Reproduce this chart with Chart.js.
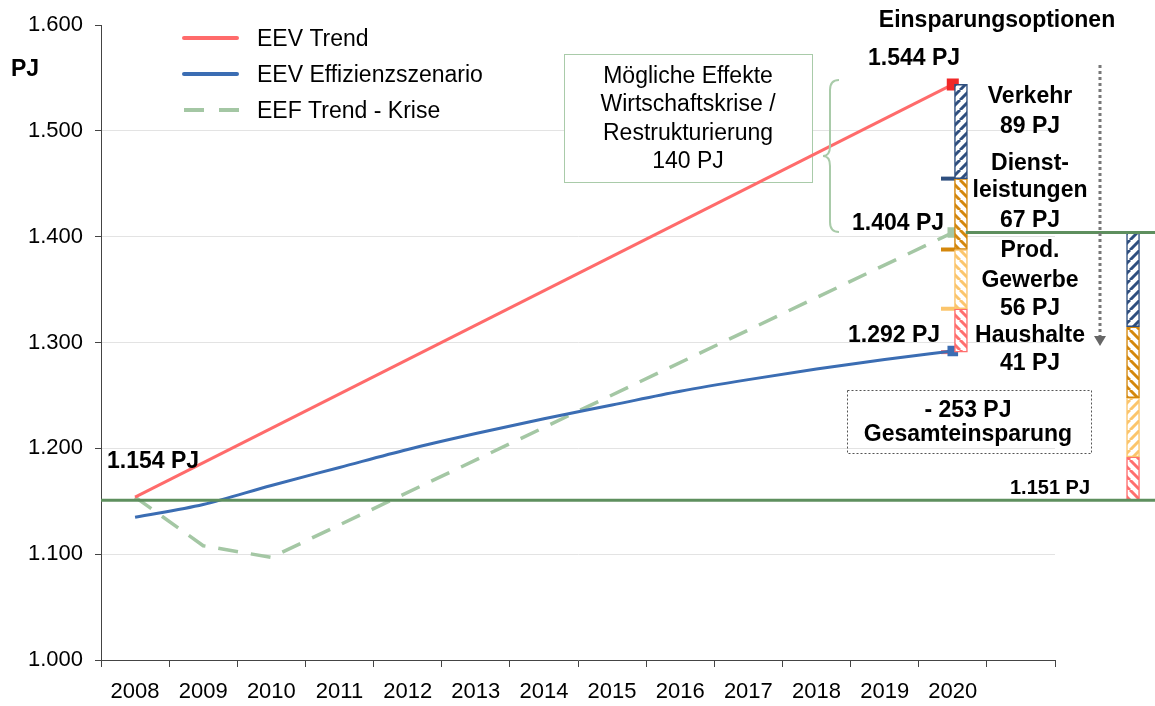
<!DOCTYPE html>
<html>
<head>
<meta charset="utf-8">
<script src="https://cdn.jsdelivr.net/npm/chart.js@4.4.1/dist/chart.umd.min.js"></script>
<style>
html,body{margin:0;padding:0;background:#fff;}
#wrap{width:1155px;height:706px;}
canvas{display:block;}
</style>
</head>
<body>
<div id="wrap"><canvas id="c" width="1155" height="706"></canvas></div>
<script>
// ---------------- DATA ----------------
const years = ['2008','2009','2010','2011','2012','2013','2014','2015','2016','2017','2018','2019','2020'];
const eevTrend      = [1154, null, null, null, null, null, null, null, null, null, null, null, 1544];
const eevEffizienz  = [1135, 1147, 1165, 1182, 1199, 1214, 1228, 1241, 1254, 1265, 1275, 1284, 1292];
const eefTrendKrise = [1154, 1108, 1097, null, null, null, null, null, null, null, null, null, 1404];
const sectors       = ['Verkehr', 'Dienstleistungen', 'Prod. Gewerbe', 'Haushalte'];
const sectorSavings = [89, 67, 56, 41];
const trendEnd = 1544;
const kriseEnd = 1404;
const kriseTarget = 1151;
const yTicks = [1000, 1100, 1200, 1300, 1400, 1500, 1600];

// ---------------- HELPERS ----------------
const FONT = '"Liberation Sans", Arial, Helvetica, sans-serif';
Chart.defaults.font.family = FONT;
Chart.defaults.font.size = 22;
Chart.defaults.color = '#000';

function bounds(top) {
  const b = [top];
  sectorSavings.forEach(s => b.push(b[b.length - 1] - s));
  return b;
}
const trendBounds = bounds(trendEnd);
const kriseBounds = bounds(kriseEnd);
const toXY = arr => arr.map((v, i) => ({x: i, y: v}));

const sectorColors = ['#2f4f7f', '#d4870c', '#fbc56c', '#ff6e6e'];
const canvas = document.getElementById('c');
const mainCtx = canvas.getContext('2d');
function hatch(color, dir) {
  const s = 10;
  const c = document.createElement('canvas');
  c.width = s; c.height = s;
  const g = c.getContext('2d');
  g.fillStyle = '#fff'; g.fillRect(0, 0, s, s);
  g.strokeStyle = color; g.lineWidth = 3;
  g.beginPath();
  for (let k = -1; k <= 1; k++) {
    if (dir > 0) { g.moveTo(k * s, s); g.lineTo(k * s + s, 0); }
    else { g.moveTo(k * s, 0); g.lineTo(k * s + s, s); }
  }
  g.stroke();
  return mainCtx.createPattern(c, 'repeat');
}
const dirBar1 = [1, -1, -1, -1];
const dirBar2 = [1, -1, 1, -1];

function fmt(v) {
  const s = String(Math.round(v));
  return s.slice(0, s.length - 3) + '.' + s.slice(-3);
}

// placement on the x axis (one unit per year slot, slots centred on integers)
const X_MIN = -0.5, X_MAX = 13.5;
const BAR1_X = 12.12, BAR2_X = 14.645, DASH_X = 11.93, LINE_END_X = 14.97, LINE404_START_X = 12.19;

const lastIdx = years.length - 1;

const datasets = [
  {
    label: 'EEV Trend', data: toXY(eevTrend),
    borderColor: '#ff6b6b', backgroundColor: '#ff6b6b', borderWidth: 3, spanGaps: true,
    pointStyle: 'rect', pointRadius: c => c.dataIndex === lastIdx ? 8.5 : 0,
    pointBackgroundColor: '#f02828', pointBorderWidth: 0, order: 1
  },
  {
    label: 'EEV Effizienzszenario', data: toXY(eevEffizienz),
    borderColor: '#3b6db3', backgroundColor: '#3b6db3', borderWidth: 3, cubicInterpolationMode: 'monotone',
    pointStyle: 'rect', pointRadius: c => c.dataIndex === lastIdx ? 7.5 : 0,
    pointBackgroundColor: '#3b6db3', pointBorderWidth: 0, order: 2
  },
  {
    label: 'EEF Trend - Krise', data: toXY(eefTrendKrise),
    borderColor: '#a4c7a4', backgroundColor: '#a4c7a4', borderWidth: 3.5, borderDash: [20, 13], spanGaps: true,
    pointStyle: 'rect', pointRadius: c => c.dataIndex === lastIdx ? 7.5 : 0,
    pointBackgroundColor: '#a4c7a4', pointBorderWidth: 0, order: 3
  },
  {
    label: 'Ziel', type: 'line',
    data: [{x: X_MIN, y: kriseTarget}, {x: LINE_END_X, y: kriseTarget}],
    borderColor: '#5e8f5e', borderWidth: 3, pointRadius: 0, clip: false, order: 0
  },
  {
    label: 'Krise Ende', type: 'line',
    data: [{x: LINE404_START_X, y: kriseEnd}, {x: LINE_END_X, y: kriseEnd}],
    borderColor: '#5e8f5e', borderWidth: 3, pointRadius: 0, clip: false, order: 0
  },
  {
    label: 'Marken', type: 'line', showLine: false,
    data: trendBounds.slice(1).map(v => ({x: DASH_X, y: v})),
    pointStyle: 'line', pointRadius: 7, pointBorderWidth: 4,
    pointBorderColor: sectorColors, pointBackgroundColor: sectorColors, order: 4, clip: false
  }
];
sectors.forEach((name, i) => {
  datasets.push({
    type: 'bar', label: name, grouped: false, barThickness: 13,
    data: [
      {x: BAR1_X, y: [trendBounds[i + 1], trendBounds[i]]},
      {x: BAR2_X, y: [kriseBounds[i + 1], kriseBounds[i]]}
    ],
    backgroundColor: [hatch(sectorColors[i], dirBar1[i]), hatch(sectorColors[i], dirBar2[i])],
    borderColor: sectorColors[i], borderWidth: 1.5, borderSkipped: false, clip: false, order: 0
  });
});

// ---------------- ANNOTATIONS ----------------
const AS = 23; // annotation font size
function txt(ctx, s, x, y, opt) {
  opt = opt || {};
  ctx.font = (opt.bold ? 'bold ' : '') + (opt.size || AS) + 'px ' + FONT;
  ctx.textAlign = opt.align || 'center';
  ctx.textBaseline = 'alphabetic';
  ctx.fillStyle = opt.color || '#000';
  ctx.fillText(s, x, y);
}

const annotations = {
  id: 'annotations',
  beforeDatasetsDraw(chart) {
    const ctx = chart.ctx;
    ctx.save();
    ctx.fillStyle = '#fff';
    ctx.fillRect(165, 21, 315, 108);
    ctx.fillRect(564.5, 54.5, 248, 128);
    ctx.strokeStyle = '#a9cba9'; ctx.lineWidth = 1;
    ctx.strokeRect(564.5, 54.5, 248, 128);
    ctx.restore();
  },
  afterDraw(chart) {
    const ctx = chart.ctx;
    ctx.save();
    // legend
    const rows = [38, 74, 110];
    [0, 1, 2].forEach((di, r) => {
      const ds = chart.data.datasets[di];
      ctx.beginPath();
      ctx.strokeStyle = ds.borderColor; ctx.lineWidth = 4; ctx.lineCap = ds.borderDash ? 'butt' : 'round';
      ctx.setLineDash(ds.borderDash ? [20, 15] : []);
      ctx.moveTo(184, rows[r]); ctx.lineTo(ds.borderDash ? 240 : 237, rows[r]);
      ctx.stroke();
      ctx.setLineDash([]);
      ctx.font = AS + 'px ' + FONT; ctx.textAlign = 'left'; ctx.textBaseline = 'alphabetic'; ctx.fillStyle = '#000';
      ctx.fillText(ds.label, 257, rows[r] + 8);
    });
    ctx.lineCap = 'butt';

    // brace
    ctx.beginPath();
    ctx.strokeStyle = '#a9cba9'; ctx.lineWidth = 2;
    ctx.moveTo(839, 80);
    ctx.quadraticCurveTo(830, 80, 830, 90);
    ctx.lineTo(830, 146);
    ctx.quadraticCurveTo(830, 156, 823, 156);
    ctx.quadraticCurveTo(830, 156, 830, 166);
    ctx.lineTo(830, 222);
    ctx.quadraticCurveTo(830, 232, 839, 232);
    ctx.stroke();

    // text box content
    txt(ctx, 'Mögliche Effekte', 688, 83);
    txt(ctx, 'Wirtschaftskrise /', 688, 111);
    txt(ctx, 'Restrukturierung', 688, 140);
    txt(ctx, '140 PJ', 688, 168);

    // axis unit
    txt(ctx, 'PJ', 11, 76, {bold: true, align: 'left'});

    // value labels
    txt(ctx, fmt(eevTrend[0]) + ' PJ', 107, 468, {bold: true, align: 'left'});
    txt(ctx, fmt(trendEnd) + ' PJ', 868, 65, {bold: true, align: 'left'});
    txt(ctx, fmt(kriseEnd) + ' PJ', 852, 230, {bold: true, align: 'left'});
    txt(ctx, fmt(eevEffizienz[lastIdx]) + ' PJ', 848, 342, {bold: true, align: 'left'});
    txt(ctx, fmt(kriseTarget) + ' PJ', 1050, 494, {bold: true, size: 20});

    txt(ctx, 'Einsparungsoptionen', 997, 27, {bold: true});

    // sector labels
    const sx = 1030;
    txt(ctx, 'Verkehr', sx, 103, {bold: true});
    txt(ctx, sectorSavings[0] + ' PJ', sx, 133, {bold: true});
    txt(ctx, 'Dienst-', sx, 170, {bold: true});
    txt(ctx, 'leistungen', sx, 197, {bold: true});
    txt(ctx, sectorSavings[1] + ' PJ', sx, 227, {bold: true});
    txt(ctx, 'Prod.', sx, 257, {bold: true});
    txt(ctx, 'Gewerbe', sx, 287, {bold: true});
    txt(ctx, sectorSavings[2] + ' PJ', sx, 315, {bold: true});
    txt(ctx, 'Haushalte', sx, 342, {bold: true});
    txt(ctx, sectorSavings[3] + ' PJ', sx, 370, {bold: true});

    // total savings box
    const total = sectorSavings.reduce((a, b) => a + b, 0);
    ctx.strokeStyle = '#555'; ctx.lineWidth = 1; ctx.setLineDash([2, 2]);
    ctx.strokeRect(847.5, 390.5, 244, 63);
    ctx.setLineDash([]);
    txt(ctx, '- ' + total + ' PJ', 968, 417, {bold: true});
    txt(ctx, 'Gesamteinsparung', 968, 441, {bold: true});

    // dotted arrow
    ctx.beginPath();
    ctx.strokeStyle = '#777'; ctx.lineWidth = 3; ctx.setLineDash([3, 3]);
    ctx.moveTo(1100, 65); ctx.lineTo(1100, 336);
    ctx.stroke();
    ctx.setLineDash([]);
    ctx.beginPath();
    ctx.fillStyle = '#666';
    ctx.moveTo(1094, 336); ctx.lineTo(1106, 336); ctx.lineTo(1100, 346); ctx.closePath();
    ctx.fill();

    ctx.restore();
  }
};

const isSlotEdge = v => Math.abs(v - Math.round(v)) > 0.25;

new Chart(canvas, {
  type: 'line',
  data: { datasets: datasets },
  options: {
    responsive: false,
    animation: false,
    events: [],
    layout: { padding: { top: 20, right: 100, left: 0, bottom: 0 } },
    plugins: { legend: { display: false }, tooltip: { enabled: false } },
    scales: {
      x: {
        type: 'linear', min: X_MIN, max: X_MAX, offset: false,
        afterBuildTicks: s => {
          const t = [];
          for (let k = 0; k <= (X_MAX - X_MIN) * 2; k++) t.push({value: X_MIN + k * 0.5});
          s.ticks = t;
        },
        grid: { offset: false, drawOnChartArea: false, drawTicks: true, tickLength: 7, lineWidth: 1,
                tickColor: c => (c.tick && isSlotEdge(c.tick.value)) ? '#444' : 'rgba(0,0,0,0)' },
        border: { color: '#444', width: 1 },
        ticks: { color: '#000', padding: 12, autoSkip: false, maxRotation: 0, font: { size: 22 },
                 callback: v => (!isSlotEdge(v) && years[Math.round(v)]) ? years[Math.round(v)] : '' },
        afterFit: s => { s.height = 46; }
      },
      y: {
        min: yTicks[0], max: yTicks[yTicks.length - 1],
        afterBuildTicks: s => { s.ticks = yTicks.map(v => ({value: v})); },
        ticks: { color: '#000', padding: 12, callback: v => fmt(v), font: { size: 22 } },
        grid: { color: c => (c.tick && c.tick.value === yTicks[yTicks.length - 1]) ? 'rgba(0,0,0,0)' : '#e3e3e3',
                tickColor: '#444', tickLength: 6, lineWidth: 1 },
        border: { color: '#444', width: 1 },
        afterFit: s => { s.width = 101; }
      }
    }
  },
  plugins: [annotations]
});
</script>
</body>
</html>
